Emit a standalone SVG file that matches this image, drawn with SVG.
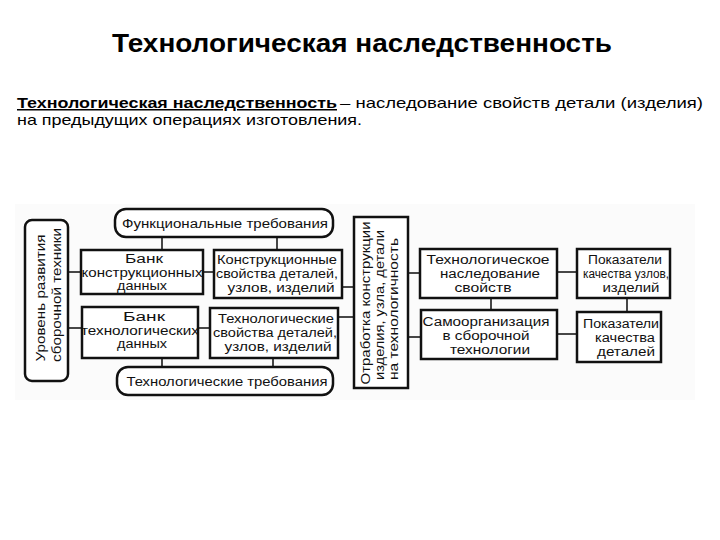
<svg xmlns="http://www.w3.org/2000/svg" width="720" height="540" viewBox="0 0 720 540">
<style>
  .box { fill: #ffffff; stroke: #111111; stroke-width: 2.5; }
  .rbox { fill: #ffffff; stroke: #111111; stroke-width: 2.5; }
  .conn line { stroke: #1a1a1a; stroke-width: 1.6; }
  .t { font-family: "Liberation Sans", Arial, sans-serif; font-size: 12px; fill: #111111; text-anchor: middle; }
  .hdr { font-family: "Liberation Sans", Arial, sans-serif; fill: #000000; }
</style>
<rect width="720" height="540" fill="#ffffff"/>
<rect x="15" y="204" width="680" height="196" fill="#fbfbfb"/>

<g id="title">
  <text class="hdr" x="112" y="52" font-size="26" font-weight="bold" textLength="500" lengthAdjust="spacingAndGlyphs">Технологическая наследственность</text>
</g>
<g id="definition">
  <text class="hdr" x="17" y="108" font-size="15" font-weight="bold" text-decoration="underline" textLength="320" lengthAdjust="spacingAndGlyphs">Технологическая наследственность</text>
  <text class="hdr" x="340" y="108" font-size="15" textLength="363" lengthAdjust="spacingAndGlyphs">– наследование свойств детали (изделия)</text>
  <text class="hdr" x="17" y="125" font-size="15" textLength="345" lengthAdjust="spacingAndGlyphs">на предыдущих операциях изготовления.</text>
</g>

<g class="conn" id="connectors">
  <line x1="162" y1="237" x2="162" y2="250"/>
  <line x1="277" y1="237" x2="277" y2="250"/>
  <line x1="68" y1="272" x2="81" y2="272"/>
  <line x1="68" y1="328" x2="82" y2="328"/>
  <line x1="203" y1="272" x2="214" y2="272"/>
  <line x1="198" y1="328" x2="210" y2="328"/>
  <line x1="342" y1="287" x2="354" y2="287"/>
  <line x1="338" y1="317" x2="354" y2="317"/>
  <line x1="162" y1="358" x2="162" y2="367"/>
  <line x1="273" y1="358" x2="273" y2="367"/>
  <line x1="408" y1="273" x2="420" y2="273"/>
  <line x1="408" y1="337" x2="421" y2="337"/>
  <line x1="491" y1="298" x2="491" y2="310"/>
  <line x1="557" y1="272" x2="577" y2="272"/>
  <line x1="557" y1="334" x2="577" y2="334"/>
  <line x1="627" y1="298" x2="627" y2="312"/>
</g>

<g id="uroven">
  <rect class="rbox" x="25" y="220" width="43" height="161" rx="7"/>
  <text class="t" transform="translate(45,298) rotate(-90)" textLength="127" lengthAdjust="spacingAndGlyphs">Уровень развития</text>
  <text class="t" transform="translate(61,295) rotate(-90)" textLength="134" lengthAdjust="spacingAndGlyphs">сборочной техники</text>
</g>

<g id="funk">
  <rect class="rbox" x="115" y="209" width="218" height="28" rx="11"/>
  <text class="t" x="225" y="228" textLength="206" lengthAdjust="spacingAndGlyphs">Функциональные требования</text>
</g>

<g id="tehtreb">
  <rect class="rbox" x="117" y="367" width="216" height="28" rx="11"/>
  <text class="t" x="227" y="386" textLength="201" lengthAdjust="spacingAndGlyphs">Технологические требования</text>
</g>

<g id="bank-konstr">
  <rect class="box" x="81" y="250" width="122" height="44"/>
  <text class="t" x="144" y="263" textLength="38" lengthAdjust="spacingAndGlyphs">Банк</text>
  <text class="t" x="142" y="276.5" textLength="121" lengthAdjust="spacingAndGlyphs">конструкционных</text>
  <text class="t" x="142" y="290" textLength="50" lengthAdjust="spacingAndGlyphs">данных</text>
</g>

<g id="bank-teh">
  <rect class="box" x="82" y="307" width="116" height="51"/>
  <text class="t" x="144" y="321" textLength="42" lengthAdjust="spacingAndGlyphs">Банк</text>
  <text class="t" x="140" y="334.5" textLength="118" lengthAdjust="spacingAndGlyphs">технологических</text>
  <text class="t" x="142" y="348" textLength="50" lengthAdjust="spacingAndGlyphs">данных</text>
</g>

<g id="konstr-sv">
  <rect class="box" x="214" y="250" width="128" height="48"/>
  <text class="t" x="277" y="264" textLength="120" lengthAdjust="spacingAndGlyphs">Конструкционные</text>
  <text class="t" x="277" y="278" textLength="122" lengthAdjust="spacingAndGlyphs">свойства деталей,</text>
  <text class="t" x="281" y="292" textLength="107" lengthAdjust="spacingAndGlyphs">узлов, изделий</text>
</g>

<g id="teh-sv">
  <rect class="box" x="210" y="308" width="128" height="50"/>
  <text class="t" x="276" y="323" textLength="116" lengthAdjust="spacingAndGlyphs">Технологические</text>
  <text class="t" x="275" y="337" textLength="124" lengthAdjust="spacingAndGlyphs">свойства деталей,</text>
  <text class="t" x="278" y="351" textLength="107" lengthAdjust="spacingAndGlyphs">узлов, изделий</text>
</g>

<g id="otrabotka">
  <rect class="box" x="354" y="217" width="54" height="171"/>
  <text class="t" transform="translate(370,303) rotate(-90)" textLength="163" lengthAdjust="spacingAndGlyphs">Отработка конструкции</text>
  <text class="t" transform="translate(384,305) rotate(-90)" textLength="150" lengthAdjust="spacingAndGlyphs">изделия, узла, детали</text>
  <text class="t" transform="translate(398,309) rotate(-90)" textLength="142" lengthAdjust="spacingAndGlyphs">на технологичность</text>
</g>

<g id="teh-nasl">
  <rect class="box" x="420" y="249" width="137" height="49"/>
  <text class="t" x="488" y="264" textLength="123" lengthAdjust="spacingAndGlyphs">Технологическое</text>
  <text class="t" x="490" y="278" textLength="100" lengthAdjust="spacingAndGlyphs">наследование</text>
  <text class="t" x="483" y="292" textLength="57" lengthAdjust="spacingAndGlyphs">свойств</text>
</g>

<g id="samoorg">
  <rect class="box" x="421" y="310" width="136" height="49"/>
  <text class="t" x="486" y="326" textLength="127" lengthAdjust="spacingAndGlyphs">Самоорганизация</text>
  <text class="t" x="486" y="340" textLength="87" lengthAdjust="spacingAndGlyphs">в сборочной</text>
  <text class="t" x="490" y="354" textLength="80" lengthAdjust="spacingAndGlyphs">технологии</text>
</g>

<g id="pok-uzlov">
  <rect class="box" x="577" y="249" width="93" height="49"/>
  <text class="t" x="625" y="264" textLength="74" lengthAdjust="spacingAndGlyphs">Показатели</text>
  <text class="t" x="626" y="278" textLength="86" lengthAdjust="spacingAndGlyphs">качества узлов,</text>
  <text class="t" x="631" y="292" textLength="57" lengthAdjust="spacingAndGlyphs">изделий</text>
</g>

<g id="pok-detalei">
  <rect class="box" x="577" y="312" width="84" height="50"/>
  <text class="t" x="621" y="328" textLength="76" lengthAdjust="spacingAndGlyphs">Показатели</text>
  <text class="t" x="625" y="342" textLength="60" lengthAdjust="spacingAndGlyphs">качества</text>
  <text class="t" x="626" y="356" textLength="58" lengthAdjust="spacingAndGlyphs">деталей</text>
</g>
</svg>
